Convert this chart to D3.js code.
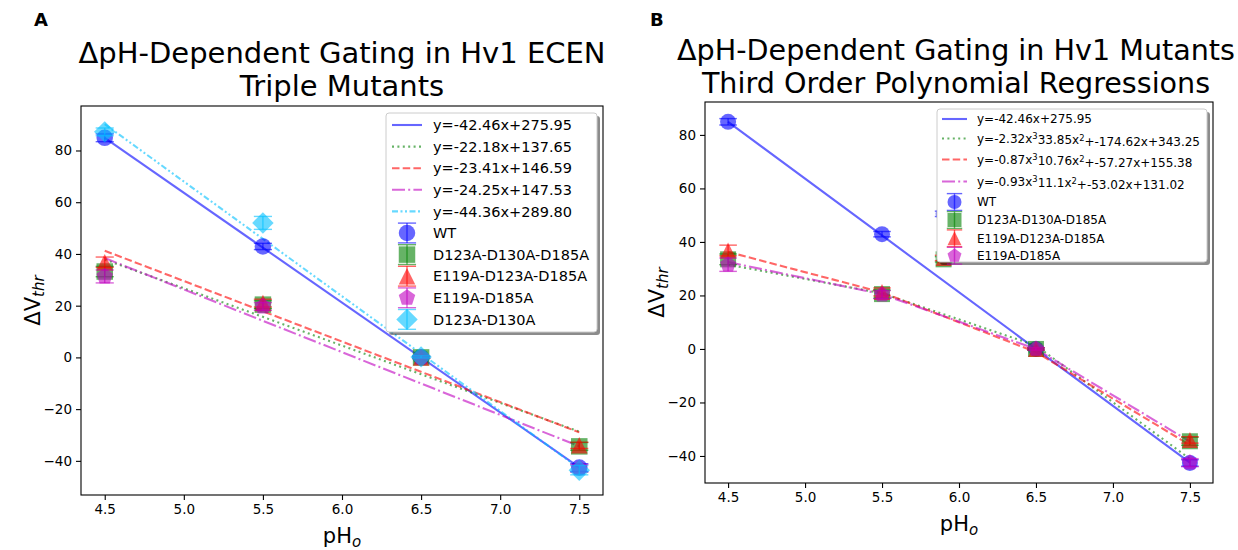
<!DOCTYPE html>
<html><head><meta charset="utf-8">
<script src="https://cdn.jsdelivr.net/npm/d3@7"></script>
<style>
body{margin:0;background:#fff}
svg{display:block}
text{font-family:"DejaVu Sans","Liberation Sans",sans-serif;fill:#000}
</style>
</head><body>
<svg id="chart" width="1238" height="550"></svg>
<script>
// ---- shared axis data ----
const pH = [4.5, 5.5, 6.5, 7.5];
const xTickValues = [4.5, 5.0, 5.5, 6.0, 6.5, 7.0, 7.5];
const yTickValues = [-40, -20, 0, 20, 40, 60, 80];

// ---- series identity ----
const seriesNames  = ["WT", "D123A-D130A-D185A", "E119A-D123A-D185A", "E119A-D185A", "D123A-D130A"];
const seriesColors = ["#0000ff", "#008000", "#ff0000", "#bf00bf", "#00bfff"];
const seriesShapes = ["circle", "square", "triangle", "pentagon", "diamond"];

// ---- panel A: measured ΔVthr (mV) ----
const wtA        = [84.9, 42.9, 0.0, -42.6];
const tripleA    = [33.2, 20.4, 0.0, -34.4];
const e119TripA  = [36.8, 21.0, 0.0, -34.0];
const e119D185A  = [31.3, 19.7, 0.0, -42.9];
const d123D130A  = [87.2, 52.0, 0.2, -43.6];
const errWtA       = [1.5, 1.2, 0.4, 1.5];
const errTripleA   = [2.0, 1.5, 0.4, 1.5];
const errE119TripA = [2.0, 1.5, 0.4, 1.2];
const errE119D185A = [2.5, 1.5, 0.4, 1.5];
const errD123D130A = [1.5, 2.5, 0.4, 1.8];

// ---- panel A: linear fits ----
const fitSlopesA     = [-42.46, -22.18, -23.41, -24.25, -44.36];
const fitInterceptsA = [275.95, 137.65, 146.59, 147.53, 289.80];

// ---- panel B: measured ΔVthr (mV) ----
const wtB        = [84.9, 42.9, 0.0, -42.6];
const tripleB    = [33.5, 20.5, 0.0, -34.5];
const e119TripB  = [36.8, 21.3, 0.0, -34.0];
const e119D185B  = [31.5, 20.3, 0.0, -42.5];
const errWtB       = [1.2, 1.0, 0.4, 1.2];
const errTripleB   = [2.0, 1.5, 0.4, 1.5];
const errE119TripB = [2.0, 1.5, 0.4, 1.2];
const errE119D185B = [2.5, 1.5, 0.4, 1.5];
// extra pH 5.9 recordings (largely behind the legend)
const pHExtraB        = [5.9];
const wtExtraB        = [50.5];
const tripleExtraB    = [33.5];
const e119TripExtraB  = [34.0];

// ---- panel B: fits (WT linear, others cubic: a x^3 + b x^2 + c x + d) ----
const polyWtB      = [0, 0, -42.46, 275.95];
const polyGreenB   = [-2.32, 33.85, -174.62, 343.25];
const polyRedB     = [-0.87, 10.76, -57.27, 155.38];
const polyMagentaB = [-0.93, 11.1, -53.02, 131.02];

// ---- line styles for fit lines ----
const lineDashes = [null, "2,3.4", "7.5,3.2", "13,3.2,2,3.2", "6,2.5,2,2.5,2,2.5"];

const svg = d3.select("#chart");

function markerPath(shape, s) {
  const h = s / 2;
  switch (shape) {
    case "circle": return d3.symbol(d3.symbolCircle, Math.PI * h * h)();
    case "square": return `M${-h},${-h}H${h}V${h}H${-h}Z`;
    case "triangle": return `M0,${-h}L${h},${h}L${-h},${h}Z`;
    case "diamond": { const r = h * 1.3; return `M0,${-r}L${r},0L0,${r}L${-r},0Z`; }
    case "pentagon": {
      const r = h * 1.05;
      return d3.range(5).map((i, k) => {
        const a = -Math.PI / 2 + i * 2 * Math.PI / 5;
        return (k ? "L" : "M") + (r * Math.cos(a)).toFixed(2) + "," + (r * Math.sin(a)).toFixed(2);
      }).join("") + "Z";
    }
  }
}

// marker with vertical error bar and caps
function drawMarker(g, cx, cy, yLo, yHi, shape, color, size) {
  const cap = size * 0.55;
  const grp = g.append("g");
  grp.append("path").attr("d", markerPath(shape, size))
    .attr("transform", `translate(${cx},${cy})`)
    .attr("fill", color).attr("fill-opacity", 0.6).attr("stroke", "none");
  const eb = grp.append("g").attr("stroke", color).attr("stroke-opacity", 0.6).attr("stroke-width", 1.4);
  eb.append("line").attr("x1", cx).attr("x2", cx).attr("y1", yLo).attr("y2", yHi);
  eb.append("line").attr("x1", cx - cap).attr("x2", cx + cap).attr("y1", yLo).attr("y2", yLo);
  eb.append("line").attr("x1", cx - cap).attr("x2", cx + cap).attr("y1", yHi).attr("y2", yHi);
}

function drawPanel(cfg) {
  const x = d3.scaleLinear().domain([4.35, 7.65]).range([cfg.left, cfg.right]);
  const y = d3.scaleLinear().domain(cfg.yDomain).range([cfg.bottom, cfg.top]);
  const g = svg.append("g");

  // fit lines
  cfg.fits.forEach(f => {
    const line = d3.line().x(d => x(d[0])).y(d => y(d[1]));
    g.append("path").attr("d", line(f.points))
      .attr("fill", "none").attr("stroke", f.color).attr("stroke-opacity", 0.6)
      .attr("stroke-width", 2.1).attr("stroke-dasharray", f.dash);
  });

  // data markers
  cfg.series.forEach(s => {
    const xs = s.x || pH;
    s.values.forEach((v, i) => {
      drawMarker(g, x(xs[i]), y(v), y(v - s.err[i]), y(v + s.err[i]), s.shape, s.color, cfg.markerSize);
    });
  });

  // axes frame
  g.append("rect").attr("x", cfg.left).attr("y", cfg.top)
    .attr("width", cfg.right - cfg.left).attr("height", cfg.bottom - cfg.top)
    .attr("fill", "none").attr("stroke", "#000").attr("stroke-width", 1.1);

  const xa = g.append("g").attr("transform", `translate(0,${cfg.bottom})`)
    .call(d3.axisBottom(x).tickValues(xTickValues).tickFormat(d3.format(".1f")).tickSize(5).tickPadding(4));
  const ya = g.append("g").attr("transform", `translate(${cfg.left},0)`)
    .call(d3.axisLeft(y).tickValues(yTickValues).tickFormat(d => d < 0 ? "\u2212" + Math.abs(d) : d).tickSize(5).tickPadding(4));
  [xa, ya].forEach(a => {
    a.select(".domain").remove();
    a.selectAll("text").attr("font-size", 13.5).attr("font-family", "DejaVu Sans").attr("fill", "#000");
    a.selectAll("line").attr("stroke", "#000").attr("stroke-width", 1.1);
  });

  // title
  cfg.title.forEach((t, i) => {
    g.append("text").attr("x", cfg.titleX).attr("y", cfg.titleY + i * cfg.titleGap)
      .attr("text-anchor", "middle").attr("font-size", cfg.titleSize).text(t);
  });

  // panel letter
  g.append("text").attr("x", cfg.letterX).attr("y", 26).attr("font-size", 18)
    .attr("font-weight", "bold").text(cfg.letter);

  // x label pH_o
  const cx = (cfg.left + cfg.right) / 2;
  const xl = g.append("text").attr("x", cx).attr("y", cfg.bottom + 48)
    .attr("text-anchor", "middle").attr("font-size", 21);
  xl.append("tspan").text("pH");
  xl.append("tspan").attr("font-size", 15).attr("font-style", "italic").attr("dy", 4).text("o");

  // y label ΔV_thr
  const yl = g.append("text")
    .attr("transform", `translate(${cfg.yLabelX},${(cfg.top + cfg.bottom) / 2}) rotate(-90)`)
    .attr("text-anchor", "middle").attr("font-size", 21);
  yl.append("tspan").text("\u0394V");
  yl.append("tspan").attr("font-size", 15).attr("font-style", "italic").attr("dy", 4).text("thr");

  // legend
  const L = cfg.legend;
  const lg = g.append("g");
  lg.append("rect").attr("x", L.x + 3).attr("y", L.y + 3).attr("width", L.w).attr("height", L.h)
    .attr("rx", 3).attr("fill", "#000").attr("fill-opacity", 0.45);
  lg.append("rect").attr("x", L.x).attr("y", L.y).attr("width", L.w).attr("height", L.h)
    .attr("rx", 3).attr("fill", "#fff").attr("stroke", "#cccccc").attr("stroke-width", 1);
  L.rows.forEach((r, i) => {
    const ry = L.rowY[i];
    if (r.kind === "line") {
      lg.append("line").attr("x1", L.hx0).attr("x2", L.hx1).attr("y1", ry).attr("y2", ry)
        .attr("stroke", r.color).attr("stroke-opacity", 0.6).attr("stroke-width", 2.1)
        .attr("stroke-dasharray", r.dash);
    } else {
      const ms = cfg.legendMarker;
      drawMarker(lg, (L.hx0 + L.hx1) / 2, ry, ry + ms * 0.6, ry - ms * 0.6, r.shape, r.color, ms);
    }
    const t = lg.append("text").attr("x", L.tx).attr("y", ry).attr("dy", "0.36em").attr("font-size", L.fs);
    r.label(t);
  });
}

// label helpers
const linLabel = (m, b) => t => t.text(`y=${m.toFixed(2)}x+${b.toFixed(2)}`);
const cubicLabel = p => t => {
  t.append("tspan").text(`y=${p[0]}x`);
  t.append("tspan").attr("font-size", "0.7em").attr("dy", "-0.45em").text("3");
  t.append("tspan").attr("dy", "0.45em").text(`${p[1]}x`);
  t.append("tspan").attr("font-size", "0.7em").attr("dy", "-0.45em").text("2");
  t.append("tspan").attr("dy", "0.45em").text(`+${p[2]}x+${p[3]}`);
};
const polyAt = (p, v) => ((p[0] * v + p[1]) * v + p[2]) * v + p[3];

// ---------- Panel A ----------
const valuesA = [wtA, tripleA, e119TripA, e119D185A, d123D130A];
const errsA = [errWtA, errTripleA, errE119TripA, errE119D185A, errD123D130A];
const legendRowYA = d3.range(10).map(i => 125 + i * 21.6);
drawPanel({
  left: 81, right: 603, top: 106, bottom: 495, yDomain: [-53.2, 97.2],
  markerSize: 16.5, legendMarker: 16.5,
  title: ["\u0394pH-Dependent Gating in Hv1 ECEN", "Triple Mutants"], titleX: 342, titleY: 63, titleGap: 33, titleSize: 29,
  letter: "A", letterX: 34, yLabelX: 40,
  fits: fitSlopesA.map((m, i) => ({
    color: seriesColors[i], dash: lineDashes[i],
    points: [[pH[0], m * pH[0] + fitInterceptsA[i]], [pH[3], m * pH[3] + fitInterceptsA[i]]]
  })),
  series: valuesA.map((v, i) => ({ values: v, err: errsA[i], color: seriesColors[i], shape: seriesShapes[i] })),
  legend: {
    x: 386, y: 113, w: 211, h: 219, hx0: 392, hx1: 422, tx: 433, fs: 14.5, rowY: legendRowYA,
    rows: fitSlopesA.map((m, i) => ({ kind: "line", color: seriesColors[i], dash: lineDashes[i], label: linLabel(m, fitInterceptsA[i]) }))
      .concat(seriesNames.map((n, i) => ({ kind: "marker", color: seriesColors[i], shape: seriesShapes[i], label: t => t.text(n) })))
  }
});

// ---------- Panel B ----------
const valuesB = [wtB, tripleB, e119TripB, e119D185B];
const errsB = [errWtB, errTripleB, errE119TripB, errE119D185B];
const polysB = [polyWtB, polyGreenB, polyRedB, polyMagentaB];
const seriesB = valuesB.map((v, i) => ({ values: v, err: errsB[i], color: seriesColors[i], shape: seriesShapes[i] }))
  .concat([
    { x: pHExtraB, values: wtExtraB, err: [1.0], color: seriesColors[0], shape: seriesShapes[0] },
    { x: pHExtraB, values: tripleExtraB, err: [1.0], color: seriesColors[1], shape: seriesShapes[1] },
    { x: pHExtraB, values: e119TripExtraB, err: [1.0], color: seriesColors[2], shape: seriesShapes[2] }
  ]);
drawPanel({
  left: 705, right: 1213, top: 102, bottom: 483, yDomain: [-50.1, 92.3],
  markerSize: 16, legendMarker: 14,
  title: ["\u0394pH-Dependent Gating in Hv1 Mutants", "Third Order Polynomial Regressions"], titleX: 956, titleY: 60, titleGap: 33, titleSize: 28.6,
  letter: "B", letterX: 650, yLabelX: 664,
  fits: polysB.map((p, i) => ({
    color: seriesColors[i], dash: lineDashes[i],
    points: pH.map(v => [v, polyAt(p, v)])
  })),
  series: seriesB,
  legend: {
    x: 937, y: 109, w: 270, h: 153, hx0: 942, hx1: 967, tx: 977, fs: 12,
    rowY: [119, 138.5, 159.5, 181.5, 202, 220, 238.3, 255.7],
    rows: [
      { kind: "line", color: seriesColors[0], dash: lineDashes[0], label: linLabel(polyWtB[2], polyWtB[3]) },
      { kind: "line", color: seriesColors[1], dash: lineDashes[1], label: cubicLabel(polyGreenB) },
      { kind: "line", color: seriesColors[2], dash: lineDashes[2], label: cubicLabel(polyRedB) },
      { kind: "line", color: seriesColors[3], dash: lineDashes[3], label: cubicLabel(polyMagentaB) }
    ].concat(seriesNames.slice(0, 4).map((n, i) => ({ kind: "marker", color: seriesColors[i], shape: seriesShapes[i], label: t => t.text(n) })))
  }
});
</script>
</body></html>
